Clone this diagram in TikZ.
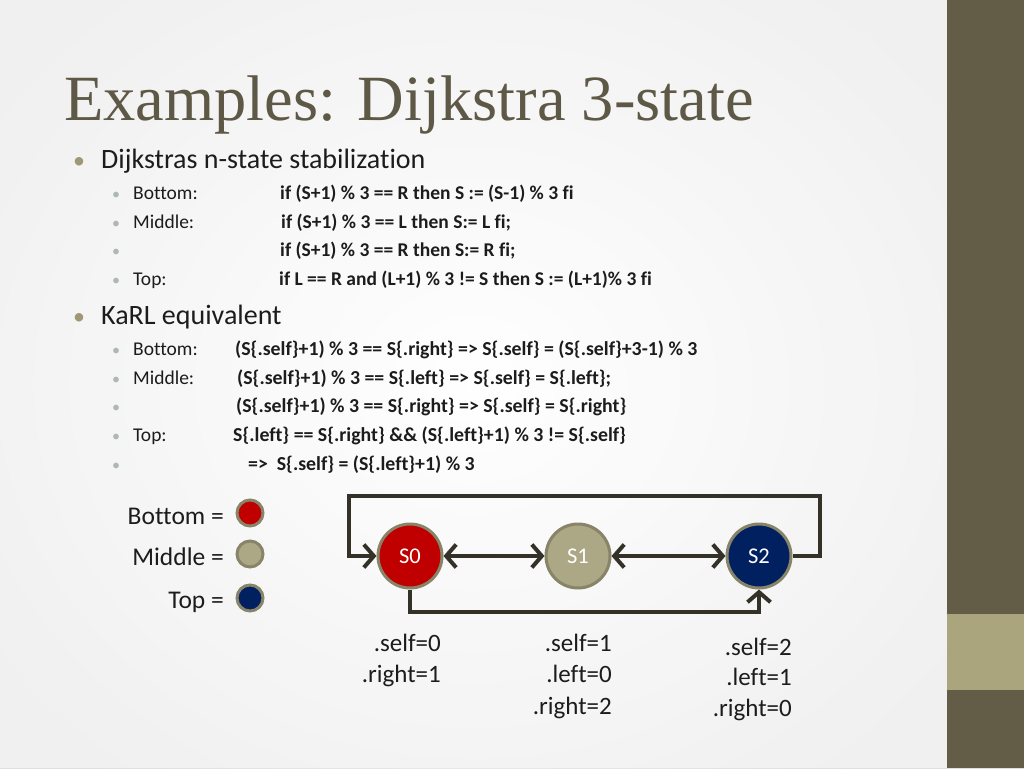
\documentclass[tikz,border=0pt]{standalone}
\usepackage{fontspec}
\setmainfont{Carlito}[Ligatures={NoCommon}]
\newfontfamily\titlefont{Liberation Serif}
\usetikzlibrary{arrows.meta}
\definecolor{titlecol}{RGB}{94,88,70}
\definecolor{textcol}{RGB}{28,28,28}
\definecolor{bulone}{RGB}{158,152,118}
\definecolor{bultwo}{RGB}{175,182,182}
\definecolor{sidedark}{RGB}{99,92,71}
\definecolor{sidelight}{RGB}{170,165,125}
\definecolor{bgout}{RGB}{222,222,222}
\definecolor{redst}{RGB}{192,0,0}
\definecolor{tanst}{RGB}{172,167,132}
\definecolor{navyst}{RGB}{0,32,96}
\definecolor{ringcol}{RGB}{135,132,105}
\definecolor{arrowcol}{RGB}{52,50,40}
\begin{document}
\begin{tikzpicture}[x=1pt,y=-1pt,
  txt/.style={inner sep=0, anchor=base west, text=textcol},
  lone/.style={txt, font=\fontsize{28}{30}\selectfont},
  ltwo/.style={txt, font=\fontsize{19.5}{22}\selectfont},
  codeln/.style={txt, font=\fontsize{19.5}{22}\selectfont\bfseries},
  codelnb/.style={txt, font=\fontsize{19.8}{22}\selectfont\bfseries},
  bone/.style={inner sep=0, anchor=base, text=bulone, font=\fontsize{24}{24}\selectfont},
  btwo/.style={inner sep=0, anchor=base, text=bultwo, font=\fontsize{16}{16}\selectfont},
  legtxt/.style={inner sep=0, anchor=base east, text=textcol, font=\fontsize{25.5}{26}\selectfont},
  lab/.style={inner sep=0, anchor=base east, text=textcol, font=\fontsize{25}{26}\selectfont},
  state/.style={circle, draw=ringcol, line width=3pt, minimum size=64pt, inner sep=0,
    text=white, font=\fontsize{22.5}{22.5}\selectfont},
  legdot/.style={circle, draw=ringcol, line width=3pt, minimum size=26pt, inner sep=0},
  tip/.tip={Straight Barb[length=10pt,width=23pt]},
  conn/.style={draw=arrowcol, line width=4pt, -tip},
  dconn/.style={draw=arrowcol, line width=4pt, tip-tip}
]
\useasboundingbox (0,0) rectangle (1024,768);
% background
\shade[inner color=white, outer color=bgout] (-120,-120) rectangle (1067,888);
\fill[white, opacity=0.55] (0,0) rectangle (947,768);
\fill[sidedark] (947,0) rectangle (1024,768);
\fill[sidelight] (947,614) rectangle (1024,690);

% title
\node[inner sep=0, anchor=base west, text=titlecol, font=\titlefont\fontsize{64.5}{65}\selectfont] (title) at (64,120) {Examples: Dijkstra 3-state};

% first block
\node[bone] (b1) at (79,168) {•};
\node[lone] (t1) at (101,168) {Dijkstras n-state stabilization};
\node[btwo] (b11) at (116,199) {•};
\node[ltwo] (t11) at (133,199) {Bottom:};
\node[codeln] (c11) at (280,199) {if (S+1) \% 3 == R then S := (S-1) \% 3 fi};
\node[btwo] (b12) at (116,228) {•};
\node[ltwo] (t12) at (133,228) {Middle:};
\node[codeln] (c12) at (281,228) {if (S+1) \% 3 == L then S:= L fi;};
\node[btwo] (b13) at (116,256) {•};
\node[codeln] (c13) at (280,256) {if (S+1) \% 3 == R then S:= R fi;};
\node[btwo] (b14) at (116,285) {•};
\node[ltwo] (t14) at (133,285) {Top:};
\node[codeln] (c14) at (279,285) {if L == R and (L+1) \% 3 != S then S := (L+1)\% 3 fi};

% second block
\node[bone] (b2) at (79,324) {•};
\node[lone] (t2) at (101,324) {KaRL equivalent};
\node[btwo] (b21) at (116,355) {•};
\node[ltwo] (t21) at (133,355) {Bottom:};
\node[codelnb] (c21) at (235,355) {(S\{.self\}+1) \% 3 == S\{.right\} => S\{.self\} = (S\{.self\}+3-1) \% 3};
\node[btwo] (b22) at (116,384) {•};
\node[ltwo] (t22) at (133,384) {Middle:};
\node[codelnb] (c22) at (237,384) {(S\{.self\}+1) \% 3 == S\{.left\} => S\{.self\} = S\{.left\};};
\node[btwo] (b23) at (116,412) {•};
\node[codelnb] (c23) at (236,412) {(S\{.self\}+1) \% 3 == S\{.right\} => S\{.self\} = S\{.right\}};
\node[btwo] (b24) at (116,441) {•};
\node[ltwo] (t24) at (133,441) {Top:};
\node[codelnb] (c24) at (233,441) {S\{.left\} == S\{.right\} \&\& (S\{.left\}+1) \% 3 != S\{.self\}};
\node[btwo] (b25) at (116,470) {•};
\node[codelnb] (c25) at (248,470) {=>\ \ S\{.self\} = (S\{.left\}+1) \% 3};

% legend
\node[legtxt] (lg1) at (224,524) {Bottom =};
\node[legtxt] (lg2) at (224,565) {Middle =};
\node[legtxt] (lg3) at (224,608) {Top =};
\node[legdot, fill=redst] (d1) at (250,513) {};
\node[legdot, fill=tanst] (d2) at (250,554) {};
\node[legdot, fill=navyst] (d3) at (250,598) {};

% states
\node[state, fill=redst] (s0) at (410,556) {S0};
\node[state, fill=tanst] (s1) at (578,556) {S1};
\node[state, fill=navyst] (s2) at (759,556) {S2};
\coordinate (tr) at (820,496);
\coordinate (tl) at (349,496);
\coordinate (br) at (759,612);

\draw[dconn] (s0) -- (s1);
\draw[dconn] (s1) -- (s2);
\draw[conn, line join=miter] (s2.east) -| (tr) -- (tl) |- (s0.west);
\draw[conn, line join=miter] (s0.south) |- (br) -- (s2.south);

% labels
\node[lab] (l01) at (441,651) {.self=0};
\node[lab] (l02) at (441,682) {.right=1};
\node[lab] (l11) at (612,651) {.self=1};
\node[lab] (l12) at (612,682) {.left=0};
\node[lab] (l13) at (612,714) {.right=2};
\node[lab] (l21) at (792,655) {.self=2};
\node[lab] (l22) at (792,685) {.left=1};
\node[lab] (l23) at (792,716) {.right=0};
\end{tikzpicture}
\end{document}
